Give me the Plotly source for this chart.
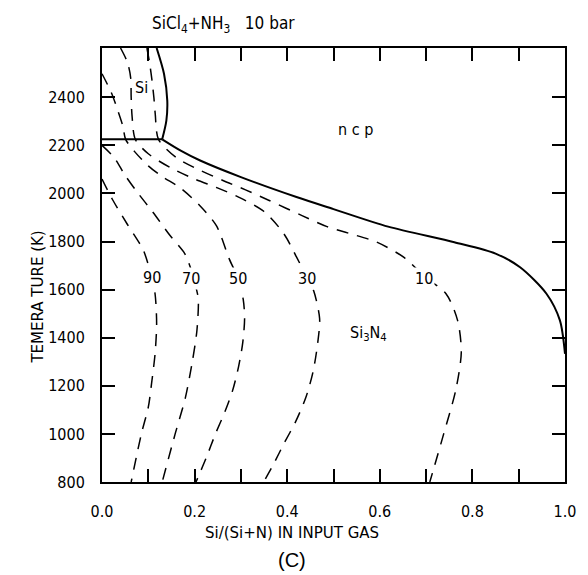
import plotly.graph_objects as go

# ---------------- data ----------------
# phase boundaries (solid)
si_bound_x = [0.118, 0.134, 0.141, 0.139, 0.130]
si_bound_t = [2605, 2497, 2386, 2303, 2225]
horiz_x = [0.0, 0.130]
horiz_t = [2225, 2225]
ncp_x = [0.130, 0.170, 0.212, 0.300, 0.420, 0.500, 0.618, 0.761, 0.850, 0.903, 0.960, 0.989, 1.0]
ncp_t = [2225, 2178, 2137, 2068, 1985, 1935, 1862, 1797, 1750, 1693, 1583, 1472, 1333]

# iso-lines (dashed), labelled in %
line90_x = [0.0, 0.022, 0.054, 0.0895, 0.107, 0.1146, 0.118, 0.1146, 0.107, 0.100, 0.085, 0.063]
line90_t = [2060, 1977, 1874, 1763, 1652, 1583, 1458, 1333, 1209, 1111, 1000, 800]
line70_x = [0.0, 0.026, 0.050, 0.075, 0.110, 0.147, 0.179, 0.193, 0.203, 0.208, 0.205, 0.195, 0.180, 0.158, 0.130]
line70_t = [2200, 2150, 2075, 2008, 1922, 1825, 1749, 1680, 1610, 1560, 1430, 1300, 1150, 1000, 800]
line50_x = [0.0, 0.020, 0.035, 0.045, 0.051, 0.070, 0.100, 0.130, 0.168, 0.211, 0.247, 0.275, 0.293, 0.305, 0.308, 0.304, 0.295, 0.282, 0.265, 0.245, 0.225, 0.203]
line50_t = [2498, 2420, 2340, 2280, 2225, 2175, 2115, 2070, 2025, 1950, 1866, 1727, 1650, 1560, 1480, 1380, 1280, 1180, 1090, 1000, 900, 800]
line30_x = [0.040, 0.055, 0.062, 0.063, 0.065, 0.072, 0.100, 0.150, 0.200, 0.247, 0.295, 0.350, 0.393, 0.420, 0.443, 0.457, 0.470, 0.466, 0.456, 0.440, 0.418, 0.393, 0.372, 0.349]
line30_t = [2605, 2545, 2480, 2400, 2320, 2225, 2165, 2105, 2060, 2025, 1985, 1925, 1832, 1736, 1650, 1596, 1480, 1380, 1260, 1150, 1050, 960, 880, 800]
line10_x = [0.097, 0.103, 0.108, 0.112, 0.115, 0.122, 0.160, 0.210, 0.260, 0.310, 0.360, 0.432, 0.486, 0.532, 0.593, 0.653, 0.696, 0.743, 0.768, 0.776, 0.764, 0.738, 0.708]
line10_t = [2605, 2540, 2470, 2400, 2330, 2225, 2150, 2098, 2055, 2015, 1972, 1908, 1862, 1835, 1798, 1733, 1655, 1583, 1472, 1340, 1182, 1000, 800]

label_text = ["90", "70", "50", "30", "10"]
label_x = [0.107, 0.193, 0.293, 0.443, 0.696]
label_t = [1652, 1645, 1645, 1645, 1645]

region_text = ["Si", "n c p", "Si<sub>3</sub>N<sub>4</sub>"]
region_x = [0.085, 0.548, 0.576]
region_t = [2441, 2265, 1418]

x_tickvals = [0.0, 0.1, 0.2, 0.3, 0.4, 0.5, 0.6, 0.7, 0.8, 0.9, 1.0]
x_ticktext = ["0.0", "", "0.2", "", "0.4", "", "0.6", "", "0.8", "", "1.0"]
y_tickvals = [800, 1000, 1200, 1400, 1600, 1800, 2000, 2200, 2400]

title_text = "SiCl<sub>4</sub>+NH<sub>3</sub>   10 bar"
xtitle_text = "Si/(Si+N) IN INPUT GAS"
ytitle_text = "TEMERA TURE (K)"
caption_text = "(C)"

# ---------------- figure ----------------
FONT = "DejaVu Sans Condensed, Liberation Sans Narrow, DejaVu Sans, sans-serif"
WIDE = "DejaVu Sans, Liberation Sans, sans-serif"
W, H = 588, 575
L, R, T, B = 102, 19, 48, 93
PW, PH = W - L - R, H - T - B

def px_to_paper_x(px):
    return (px - L) / PW

def px_to_paper_y(py):
    return (H - B - py) / PH

fig = go.Figure()
solid = dict(color="black", width=2, smoothing=0.8)
dashed = dict(color="black", width=1.5, dash="12px,9px", smoothing=0.8)

for xs, ts in [(si_bound_x, si_bound_t), (horiz_x, horiz_t), (ncp_x, ncp_t)]:
    fig.add_trace(go.Scatter(x=xs, y=ts, mode="lines", line=solid,
                             line_shape="spline", hoverinfo="skip", showlegend=False))
for xs, ts in [(line90_x, line90_t), (line70_x, line70_t), (line50_x, line50_t),
               (line30_x, line30_t), (line10_x, line10_t)]:
    fig.add_trace(go.Scatter(x=xs, y=ts, mode="lines", line=dashed,
                             line_shape="spline", hoverinfo="skip", showlegend=False))

for txt, x, t in zip(label_text, label_x, label_t):
    fig.add_annotation(x=x, y=t, text=txt, showarrow=False, bgcolor="white",
                       xanchor="center", yanchor="middle",
                       font=dict(family=FONT, size=16, color="black"))
for txt, x, t in zip(region_text, region_x, region_t):
    fig.add_annotation(x=x, y=t, text=txt, showarrow=False,
                       xanchor="center", yanchor="middle",
                       font=dict(family=FONT, size=16, color="black"))

def paper_note(txt, px, py, size, family=FONT, angle=0):
    fig.add_annotation(xref="paper", yref="paper", x=px_to_paper_x(px), y=px_to_paper_y(py),
                       text=txt, showarrow=False, textangle=angle,
                       xanchor="center", yanchor="middle",
                       font=dict(family=family, size=size, color="black"))

paper_note(title_text, 225, 25, 17)
paper_note(xtitle_text, 294, 533, 15, family=WIDE)
paper_note(ytitle_text, 37, 297, 15, family=WIDE, angle=-90)
paper_note(caption_text, 294, 560, 20, family="Liberation Sans, Arial, sans-serif")

axis_common = dict(showgrid=False, zeroline=False, showline=True, linecolor="black",
                   linewidth=2, mirror="ticks", ticks="inside", ticklen=13,
                   tickwidth=1.5, tickcolor="black",
                   tickfont=dict(family=FONT, size=16, color="black"))
fig.update_xaxes(range=[0, 1], tickmode="array", tickvals=x_tickvals,
                 ticktext=x_ticktext, ticklabelstandoff=14, **axis_common)
fig.update_yaxes(range=[800, 2605], tickmode="array", tickvals=y_tickvals,
                 ticktext=[str(v) for v in y_tickvals], ticklabelstandoff=12,
                 **axis_common)

fig.update_layout(width=W, height=H, margin=dict(l=L, r=R, t=T, b=B),
                  plot_bgcolor="white", paper_bgcolor="white")
fig.write_html("out.html")
